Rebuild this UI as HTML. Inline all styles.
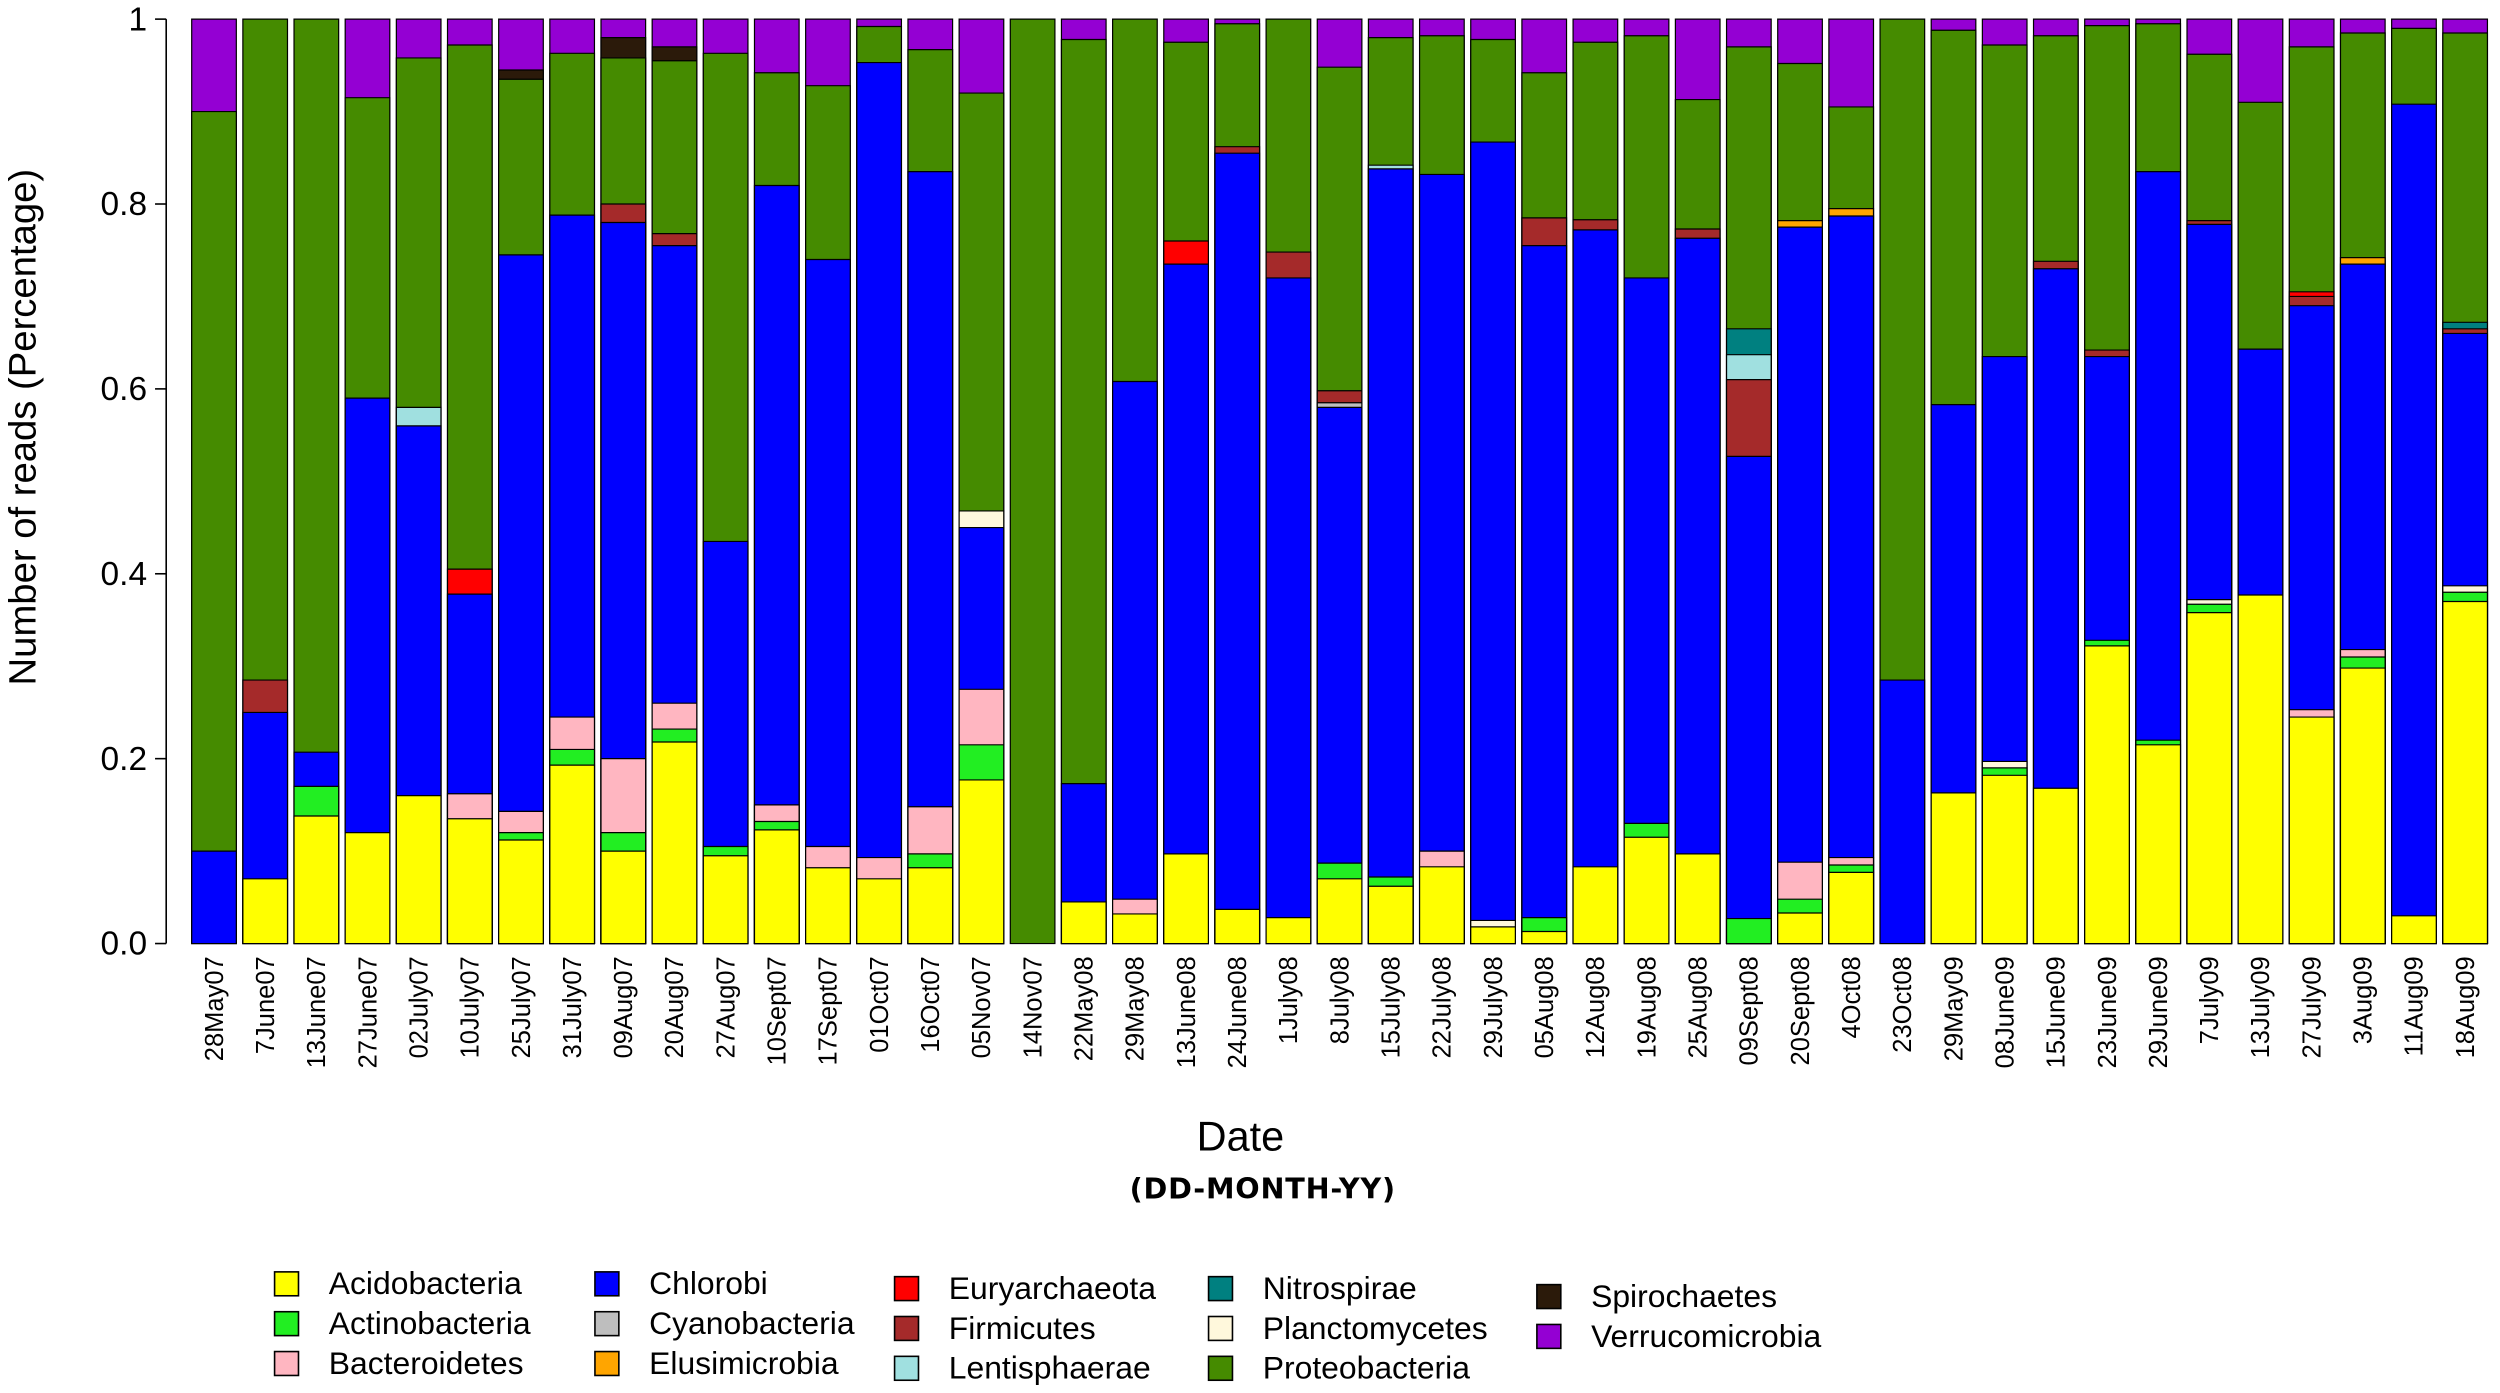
<!DOCTYPE html>
<html><head><meta charset="utf-8"><style>
html,body{margin:0;padding:0;background:#fff}
svg{display:block}
text{font-family:"Liberation Sans",sans-serif;fill:#000}
.bars rect{stroke:#000;stroke-width:1.2;vector-effect:non-scaling-stroke}
.Y{fill:#ffff00}.A{fill:#22ee22}.P{fill:#ffb6c1}.B{fill:#0000ff}.C{fill:#bebebe}.E{fill:#ffa500}.R{fill:#ff0000}.F{fill:#a52a2a}.L{fill:#a0e0e0}.N{fill:#008080}.K{fill:#fff8dc}.G{fill:#458b00}.S{fill:#2b1a0a}.V{fill:#9400d3}
.xl text{font-size:16px}
.lg rect{stroke:#000;stroke-width:1}
.lg text{font-size:20px}
</style></head><body>
<svg width="2500" height="1393" viewBox="0 0 1568 874" xmlns="http://www.w3.org/2000/svg">
<line x1="104" y1="12" x2="104" y2="592" stroke="#000" stroke-width="1"/>
<g stroke="#000" stroke-width="1">
<line x1="97" y1="12" x2="104" y2="12"/><line x1="97" y1="128" x2="104" y2="128"/><line x1="97" y1="244" x2="104" y2="244"/><line x1="97" y1="360" x2="104" y2="360"/><line x1="97" y1="476" x2="104" y2="476"/><line x1="97" y1="592" x2="104" y2="592"/>
</g>
<g font-size="21" text-anchor="end">
<text x="92" y="19">1</text><text x="92" y="135">0.8</text><text x="92" y="251">0.6</text><text x="92" y="367">0.4</text><text x="92" y="483">0.2</text><text x="92" y="599">0.0</text>
</g>
<text transform="translate(22,268) rotate(-90)" text-anchor="middle" font-size="24">Number of reads (Percentage)</text>
<text x="778" y="722" text-anchor="middle" font-size="26">Date</text>
<text x="792" y="752" text-anchor="middle" font-size="18" font-weight="bold" letter-spacing="0.5" style="font-family:'DejaVu Sans',sans-serif">(DD-MONTH-YY)</text>

<g class="bars" transform="translate(0,592) scale(1,-580)">
<g transform="translate(120,0)"><rect class="V" width="28" height="1"/><rect class="G" width="28" height=".90"/><rect class="B" width="28" height=".10"/></g>
<g transform="translate(152.1,0)"><rect class="G" width="28" height="1"/><rect class="F" width="28" height=".285"/><rect class="B" width="28" height=".25"/><rect class="Y" width="28" height=".07"/></g>
<g transform="translate(184.2,0)"><rect class="G" width="28" height="1"/><rect class="B" width="28" height=".207"/><rect class="A" width="28" height=".17"/><rect class="Y" width="28" height=".138"/></g>
<g transform="translate(216.3,0)"><rect class="V" width="28" height="1"/><rect class="G" width="28" height=".915"/><rect class="B" width="28" height=".59"/><rect class="Y" width="28" height=".12"/></g>
<g transform="translate(248.4,0)"><rect class="V" width="28" height="1"/><rect class="G" width="28" height=".958"/><rect class="L" width="28" height=".58"/><rect class="B" width="28" height=".56"/><rect class="Y" width="28" height=".16"/></g>
<g transform="translate(280.5,0)"><rect class="V" width="28" height="1"/><rect class="G" width="28" height=".972"/><rect class="R" width="28" height=".405"/><rect class="B" width="28" height=".378"/><rect class="P" width="28" height=".162"/><rect class="Y" width="28" height=".135"/></g>
<g transform="translate(312.6,0)"><rect class="V" width="28" height="1"/><rect class="S" width="28" height=".945"/><rect class="G" width="28" height=".935"/><rect class="B" width="28" height=".745"/><rect class="P" width="28" height=".143"/><rect class="A" width="28" height=".12"/><rect class="Y" width="28" height=".112"/></g>
<g transform="translate(344.7,0)"><rect class="V" width="28" height="1"/><rect class="G" width="28" height=".963"/><rect class="B" width="28" height=".788"/><rect class="P" width="28" height=".245"/><rect class="A" width="28" height=".21"/><rect class="Y" width="28" height=".193"/></g>
<g transform="translate(376.8,0)"><rect class="V" width="28" height="1"/><rect class="S" width="28" height=".98"/><rect class="G" width="28" height=".958"/><rect class="F" width="28" height=".80"/><rect class="B" width="28" height=".78"/><rect class="P" width="28" height=".20"/><rect class="A" width="28" height=".12"/><rect class="Y" width="28" height=".10"/></g>
<g transform="translate(408.9,0)"><rect class="V" width="28" height="1"/><rect class="S" width="28" height=".97"/><rect class="G" width="28" height=".955"/><rect class="F" width="28" height=".768"/><rect class="B" width="28" height=".755"/><rect class="P" width="28" height=".26"/><rect class="A" width="28" height=".232"/><rect class="Y" width="28" height=".218"/></g>
<g transform="translate(441,0)"><rect class="V" width="28" height="1"/><rect class="G" width="28" height=".963"/><rect class="B" width="28" height=".435"/><rect class="A" width="28" height=".105"/><rect class="Y" width="28" height=".095"/></g>
<g transform="translate(473.1,0)"><rect class="V" width="28" height="1"/><rect class="G" width="28" height=".942"/><rect class="B" width="28" height=".82"/><rect class="P" width="28" height=".15"/><rect class="A" width="28" height=".132"/><rect class="Y" width="28" height=".123"/></g>
<g transform="translate(505.2,0)"><rect class="V" width="28" height="1"/><rect class="G" width="28" height=".928"/><rect class="B" width="28" height=".74"/><rect class="P" width="28" height=".105"/><rect class="Y" width="28" height=".082"/></g>
<g transform="translate(537.3,0)"><rect class="V" width="28" height="1"/><rect class="G" width="28" height=".992"/><rect class="B" width="28" height=".953"/><rect class="P" width="28" height=".093"/><rect class="Y" width="28" height=".07"/></g>
<g transform="translate(569.4,0)"><rect class="V" width="28" height="1"/><rect class="G" width="28" height=".967"/><rect class="B" width="28" height=".835"/><rect class="P" width="28" height=".148"/><rect class="A" width="28" height=".097"/><rect class="Y" width="28" height=".082"/></g>
<g transform="translate(601.5,0)"><rect class="V" width="28" height="1"/><rect class="G" width="28" height=".92"/><rect class="K" width="28" height=".468"/><rect class="B" width="28" height=".45"/><rect class="P" width="28" height=".275"/><rect class="A" width="28" height=".215"/><rect class="Y" width="28" height=".177"/></g>
<g transform="translate(633.6,0)"><rect class="G" width="28" height="1"/></g>
<g transform="translate(665.7,0)"><rect class="V" width="28" height="1"/><rect class="G" width="28" height=".978"/><rect class="B" width="28" height=".173"/><rect class="Y" width="28" height=".045"/></g>
<g transform="translate(697.8,0)"><rect class="G" width="28" height="1"/><rect class="B" width="28" height=".608"/><rect class="P" width="28" height=".048"/><rect class="Y" width="28" height=".032"/></g>
<g transform="translate(729.9,0)"><rect class="V" width="28" height="1"/><rect class="G" width="28" height=".975"/><rect class="R" width="28" height=".76"/><rect class="B" width="28" height=".735"/><rect class="Y" width="28" height=".097"/></g>
<g transform="translate(762,0)"><rect class="V" width="28" height="1"/><rect class="G" width="28" height=".995"/><rect class="F" width="28" height=".862"/><rect class="B" width="28" height=".855"/><rect class="Y" width="28" height=".037"/></g>
<g transform="translate(794.1,0)"><rect class="G" width="28" height="1"/><rect class="F" width="28" height=".748"/><rect class="B" width="28" height=".72"/><rect class="Y" width="28" height=".028"/></g>
<g transform="translate(826.2,0)"><rect class="V" width="28" height="1"/><rect class="G" width="28" height=".948"/><rect class="F" width="28" height=".598"/><rect class="C" width="28" height=".585"/><rect class="B" width="28" height=".58"/><rect class="A" width="28" height=".087"/><rect class="Y" width="28" height=".07"/></g>
<g transform="translate(858.3,0)"><rect class="V" width="28" height="1"/><rect class="G" width="28" height=".98"/><rect class="L" width="28" height=".842"/><rect class="B" width="28" height=".838"/><rect class="A" width="28" height=".072"/><rect class="Y" width="28" height=".062"/></g>
<g transform="translate(890.4,0)"><rect class="V" width="28" height="1"/><rect class="G" width="28" height=".982"/><rect class="B" width="28" height=".832"/><rect class="P" width="28" height=".10"/><rect class="Y" width="28" height=".083"/></g>
<g transform="translate(922.5,0)"><rect class="V" width="28" height="1"/><rect class="G" width="28" height=".978"/><rect class="B" width="28" height=".867"/><rect class="K" width="28" height=".025"/><rect class="Y" width="28" height=".018"/></g>
<g transform="translate(954.6,0)"><rect class="V" width="28" height="1"/><rect class="G" width="28" height=".942"/><rect class="F" width="28" height=".785"/><rect class="B" width="28" height=".755"/><rect class="A" width="28" height=".028"/><rect class="Y" width="28" height=".013"/></g>
<g transform="translate(986.7,0)"><rect class="V" width="28" height="1"/><rect class="G" width="28" height=".975"/><rect class="F" width="28" height=".783"/><rect class="B" width="28" height=".772"/><rect class="Y" width="28" height=".083"/></g>
<g transform="translate(1018.8,0)"><rect class="V" width="28" height="1"/><rect class="G" width="28" height=".982"/><rect class="B" width="28" height=".72"/><rect class="A" width="28" height=".13"/><rect class="Y" width="28" height=".115"/></g>
<g transform="translate(1050.9,0)"><rect class="V" width="28" height="1"/><rect class="G" width="28" height=".913"/><rect class="F" width="28" height=".773"/><rect class="B" width="28" height=".763"/><rect class="Y" width="28" height=".097"/></g>
<g transform="translate(1083,0)"><rect class="V" width="28" height="1"/><rect class="G" width="28" height=".97"/><rect class="N" width="28" height=".665"/><rect class="L" width="28" height=".637"/><rect class="F" width="28" height=".61"/><rect class="B" width="28" height=".527"/><rect class="A" width="28" height=".027"/></g>
<g transform="translate(1115.1,0)"><rect class="V" width="28" height="1"/><rect class="G" width="28" height=".952"/><rect class="E" width="28" height=".782"/><rect class="B" width="28" height=".775"/><rect class="P" width="28" height=".088"/><rect class="A" width="28" height=".048"/><rect class="Y" width="28" height=".033"/></g>
<g transform="translate(1147.2,0)"><rect class="V" width="28" height="1"/><rect class="G" width="28" height=".905"/><rect class="E" width="28" height=".795"/><rect class="B" width="28" height=".787"/><rect class="P" width="28" height=".093"/><rect class="A" width="28" height=".085"/><rect class="Y" width="28" height=".077"/></g>
<g transform="translate(1179.3,0)"><rect class="G" width="28" height="1"/><rect class="B" width="28" height=".285"/></g>
<g transform="translate(1211.4,0)"><rect class="V" width="28" height="1"/><rect class="G" width="28" height=".988"/><rect class="B" width="28" height=".583"/><rect class="Y" width="28" height=".163"/></g>
<g transform="translate(1243.5,0)"><rect class="V" width="28" height="1"/><rect class="G" width="28" height=".972"/><rect class="B" width="28" height=".635"/><rect class="K" width="28" height=".197"/><rect class="A" width="28" height=".19"/><rect class="Y" width="28" height=".182"/></g>
<g transform="translate(1275.6,0)"><rect class="V" width="28" height="1"/><rect class="G" width="28" height=".982"/><rect class="F" width="28" height=".738"/><rect class="B" width="28" height=".73"/><rect class="Y" width="28" height=".168"/></g>
<g transform="translate(1307.7,0)"><rect class="V" width="28" height="1"/><rect class="G" width="28" height=".993"/><rect class="F" width="28" height=".642"/><rect class="B" width="28" height=".635"/><rect class="A" width="28" height=".328"/><rect class="Y" width="28" height=".322"/></g>
<g transform="translate(1339.8,0)"><rect class="V" width="28" height="1"/><rect class="G" width="28" height=".995"/><rect class="B" width="28" height=".835"/><rect class="A" width="28" height=".22"/><rect class="Y" width="28" height=".215"/></g>
<g transform="translate(1371.9,0)"><rect class="V" width="28" height="1"/><rect class="G" width="28" height=".962"/><rect class="F" width="28" height=".782"/><rect class="B" width="28" height=".778"/><rect class="K" width="28" height=".372"/><rect class="A" width="28" height=".367"/><rect class="Y" width="28" height=".358"/></g>
<g transform="translate(1404,0)"><rect class="V" width="28" height="1"/><rect class="G" width="28" height=".91"/><rect class="B" width="28" height=".643"/><rect class="Y" width="28" height=".377"/></g>
<g transform="translate(1436.1,0)"><rect class="V" width="28" height="1"/><rect class="G" width="28" height=".97"/><rect class="R" width="28" height=".705"/><rect class="F" width="28" height=".70"/><rect class="B" width="28" height=".69"/><rect class="P" width="28" height=".253"/><rect class="Y" width="28" height=".245"/></g>
<g transform="translate(1468.2,0)"><rect class="V" width="28" height="1"/><rect class="G" width="28" height=".985"/><rect class="E" width="28" height=".742"/><rect class="B" width="28" height=".735"/><rect class="P" width="28" height=".318"/><rect class="A" width="28" height=".31"/><rect class="Y" width="28" height=".298"/></g>
<g transform="translate(1500.3,0)"><rect class="V" width="28" height="1"/><rect class="G" width="28" height=".99"/><rect class="B" width="28" height=".908"/><rect class="Y" width="28" height=".03"/></g>
<g transform="translate(1532.4,0)"><rect class="V" width="28" height="1"/><rect class="G" width="28" height=".985"/><rect class="N" width="28" height=".672"/><rect class="F" width="28" height=".665"/><rect class="B" width="28" height=".66"/><rect class="K" width="28" height=".387"/><rect class="A" width="28" height=".38"/><rect class="Y" width="28" height=".37"/></g>
</g>

<g class="xl" text-anchor="end">
<text transform="translate(139.5,600) rotate(-90)">28May07</text>
<text transform="translate(171.6,600) rotate(-90)">7June07</text>
<text transform="translate(203.7,600) rotate(-90)">13June07</text>
<text transform="translate(235.8,600) rotate(-90)">27June07</text>
<text transform="translate(267.9,600) rotate(-90)">02July07</text>
<text transform="translate(300,600) rotate(-90)">10July07</text>
<text transform="translate(332.1,600) rotate(-90)">25July07</text>
<text transform="translate(364.2,600) rotate(-90)">31July07</text>
<text transform="translate(396.3,600) rotate(-90)">09Aug07</text>
<text transform="translate(428.4,600) rotate(-90)">20Aug07</text>
<text transform="translate(460.5,600) rotate(-90)">27Aug07</text>
<text transform="translate(492.6,600) rotate(-90)">10Sept07</text>
<text transform="translate(524.7,600) rotate(-90)">17Sept07</text>
<text transform="translate(556.8,600) rotate(-90)">01Oct07</text>
<text transform="translate(588.9,600) rotate(-90)">16Oct07</text>
<text transform="translate(621,600) rotate(-90)">05Nov07</text>
<text transform="translate(653.1,600) rotate(-90)">14Nov07</text>
<text transform="translate(685.2,600) rotate(-90)">22May08</text>
<text transform="translate(717.3,600) rotate(-90)">29May08</text>
<text transform="translate(749.4,600) rotate(-90)">13June08</text>
<text transform="translate(781.5,600) rotate(-90)">24June08</text>
<text transform="translate(813.6,600) rotate(-90)">1July08</text>
<text transform="translate(845.7,600) rotate(-90)">8July08</text>
<text transform="translate(877.8,600) rotate(-90)">15July08</text>
<text transform="translate(909.9,600) rotate(-90)">22July08</text>
<text transform="translate(942,600) rotate(-90)">29July08</text>
<text transform="translate(974.1,600) rotate(-90)">05Aug08</text>
<text transform="translate(1006.2,600) rotate(-90)">12Aug08</text>
<text transform="translate(1038.3,600) rotate(-90)">19Aug08</text>
<text transform="translate(1070.4,600) rotate(-90)">25Aug08</text>
<text transform="translate(1102.5,600) rotate(-90)">09Sept08</text>
<text transform="translate(1134.6,600) rotate(-90)">20Sept08</text>
<text transform="translate(1166.7,600) rotate(-90)">4Oct08</text>
<text transform="translate(1198.8,600) rotate(-90)">23Oct08</text>
<text transform="translate(1230.9,600) rotate(-90)">29May09</text>
<text transform="translate(1263,600) rotate(-90)">08June09</text>
<text transform="translate(1295.1,600) rotate(-90)">15June09</text>
<text transform="translate(1327.2,600) rotate(-90)">23June09</text>
<text transform="translate(1359.3,600) rotate(-90)">29June09</text>
<text transform="translate(1391.4,600) rotate(-90)">7July09</text>
<text transform="translate(1423.5,600) rotate(-90)">13July09</text>
<text transform="translate(1455.6,600) rotate(-90)">27July09</text>
<text transform="translate(1487.7,600) rotate(-90)">3Aug09</text>
<text transform="translate(1519.8,600) rotate(-90)">11Aug09</text>
<text transform="translate(1551.9,600) rotate(-90)">18Aug09</text>
</g>

<g class="lg">
<rect class="Y" x="172" y="798" width="15" height="15"/><text x="206" y="812">Acidobacteria</text>
<rect class="A" x="172" y="823" width="15" height="15"/><text x="206" y="837">Actinobacteria</text>
<rect class="P" x="172" y="848" width="15" height="15"/><text x="206" y="862">Bacteroidetes</text>
<rect class="B" x="373" y="798" width="15" height="15"/><text x="407" y="812">Chlorobi</text>
<rect class="C" x="373" y="823" width="15" height="15"/><text x="407" y="837">Cyanobacteria</text>
<rect class="E" x="373" y="848" width="15" height="15"/><text x="407" y="862">Elusimicrobia</text>
<rect class="R" x="561" y="801" width="15" height="15"/><text x="595" y="815">Euryarchaeota</text>
<rect class="F" x="561" y="826" width="15" height="15"/><text x="595" y="840">Firmicutes</text>
<rect class="L" x="561" y="851" width="15" height="15"/><text x="595" y="865">Lentisphaerae</text>
<rect class="N" x="758" y="801" width="15" height="15"/><text x="792" y="815">Nitrospirae</text>
<rect class="K" x="758" y="826" width="15" height="15"/><text x="792" y="840">Planctomycetes</text>
<rect class="G" x="758" y="851" width="15" height="15"/><text x="792" y="865">Proteobacteria</text>
<rect class="S" x="964" y="806" width="15" height="15"/><text x="998" y="820">Spirochaetes</text>
<rect class="V" x="964" y="831" width="15" height="15"/><text x="998" y="845">Verrucomicrobia</text>
</g>
</svg>
</body></html>
